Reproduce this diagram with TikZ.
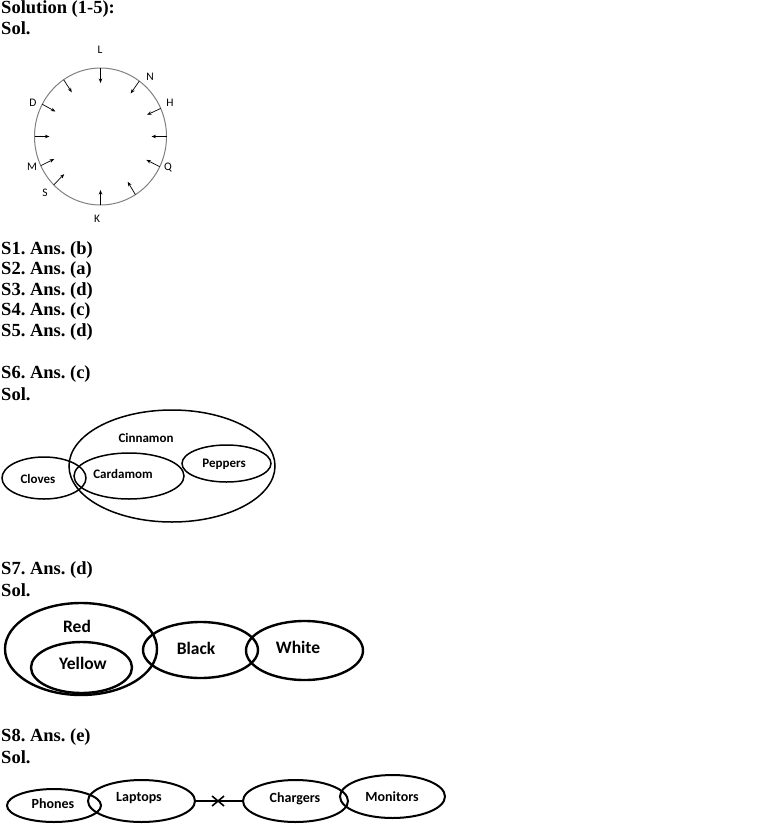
\documentclass[tikz,border=0pt]{standalone}
\usepackage{fontspec}
\setmainfont{Liberation Serif}
\newfontfamily\calibri{Carlito}
\frenchspacing
\usetikzlibrary{
	arrows.meta,
	calc,
	shapes.geometric,
	positioning
}
\tikzset{every path/.append style={line width=0.5pt}}
\tikzset{every path/.append style={>={Stealth[length=4.5pt,width=3.5pt]}}}
\tikzset{
	head/.style={anchor=west,inner sep=0pt,font=\bfseries\fontsize{18.5}{20}\selectfont},
	set/.style={ellipse,draw,inner sep=0pt,outer sep=0pt},
	letter/.style={inner sep=0pt,font=\calibri\fontsize{11.5}{13}\selectfont},
	tag/.style={inner sep=0pt,font=\calibri\bfseries\fontsize{#1}{#1}\selectfont},
	tag/.default=13
}
\newcommand{\tikzSet}[3][]{\node (#3) at #2 [set,#1]{};}

\begin{document}
\begin{tikzpicture}[x=1pt,y=-1pt]
	\useasboundingbox (0,0) rectangle (761,830);
	
	\node (h0) at (1,9) [head] {Solution (1-5):};
	\node (h1) at (1,28) [head] {Sol.};
	\node (s1) at (1,250) [head] {S1. Ans. (b)};
	\node (s2) at (1,270) [head] {S2. Ans. (a)};
	\node (s3) at (1,291) [head] {S3. Ans. (d)};
	\node (s4) at (1,311) [head] {S4. Ans. (c)};
	\node (s5) at (1,332) [head] {S5. Ans. (d)};
	\node (s6) at (1,374) [head] {S6. Ans. (c)};
	\node (s6b) at (1,394) [head] {Sol.};
	\node (s7) at (1,570) [head] {S7. Ans. (d)};
	\node (s7b) at (1,590) [head] {Sol.};
	\node (s8) at (1,737) [head] {S8. Ans. (e)};
	\node (s8b) at (1,757) [head] {Sol.};
	
	% seating circle
	\tikzSet[draw=gray,line width=1pt,minimum width=132,minimum height=137]{(100.5,136.5)}{ring}
	\foreach \a in {90,55,25,0,333,301,270,226,206,180,151,123}
		\draw[->,line width=0.7pt] (ring.\a) -- ($(ring.\a)!15pt!(ring.center)$);
	\node (L) at (100,50) [letter] {L};
	\node (N) at (150,77) [letter] {N};
	\node (H) at (170,103) [letter] {H};
	\node (Q) at (168,168) [letter] {Q};
	\node (K) at (97,219) [letter] {K};
	\node (S) at (45,193) [letter] {S};
	\node (M) at (32,167) [letter] {M};
	\node (D) at (33,103) [letter] {D};
	
	% S6
	\tikzSet[line width=1.5pt,minimum width=206,minimum height=112]{(172,466)}{cinnamon}
	\tikzSet[line width=1.5pt,minimum width=84,minimum height=42]{(44,478)}{cloves}
	\tikzSet[line width=1.5pt,minimum width=110,minimum height=46]{(129,476)}{cardamom}
	\tikzSet[line width=1.5pt,minimum width=89,minimum height=37]{(226.5,463.5)}{peppers}
	\node (tCinnamon) at (146,438) [tag] {Cinnamon};
	\node (tCloves) at (38,479) [tag] {Cloves};
	\node (tCardamom) at (123,474) [tag] {Cardamom};
	\node (tPeppers) at (224,464) [tag] {Peppers};
	
	% S7
	\tikzSet[line width=2.4pt,minimum width=152,minimum height=92]{(81,649)}{red}
	\tikzSet[line width=2.4pt,minimum width=101,minimum height=51]{(81.5,667.5)}{yellow}
	\tikzSet[line width=2.4pt,minimum width=115,minimum height=56]{(200.5,650)}{black}
	\tikzSet[line width=2.4pt,minimum width=117,minimum height=59]{(304.5,650.5)}{white}
	\node (tRed) at (77,626) [tag=17.5] {Red};
	\node (tYellow) at (83,663) [tag=17.5] {Yellow};
	\node (tBlack) at (196,648) [tag=17.5] {Black};
	\node (tWhite) at (298,647) [tag=17.5] {White};
	
	% S8
	\tikzSet[line width=2pt,minimum width=94,minimum height=33]{(54,805.5)}{phones}
	\tikzSet[line width=2pt,minimum width=107,minimum height=42]{(141.5,801)}{laptops}
	\tikzSet[line width=2pt,minimum width=105,minimum height=42]{(295.5,801)}{chargers}
	\tikzSet[line width=2pt,minimum width=105,minimum height=43]{(392.5,796.5)}{monitors}
	\node (tPhones) at (53,804) [tag=14] {Phones};
	\node (tLaptops) at (139,798) [tag=14] {Laptops};
	\node (tChargers) at (295,799) [tag=14] {Chargers};
	\node (tMonitors) at (392,797) [tag=14] {Monitors};
	
	\draw[line width=2pt] (laptops.east) -- (chargers.west);
	\coordinate (cut) at ($(laptops.east)!0.48!(chargers.west)$);
	\draw[line width=1.6pt] ($(cut)+(-6,-5)$) -- ($(cut)+(6,5)$);
	\draw[line width=1.6pt] ($(cut)+(-6,5)$) -- ($(cut)+(6,-5)$);
\end{tikzpicture}
\end{document}
